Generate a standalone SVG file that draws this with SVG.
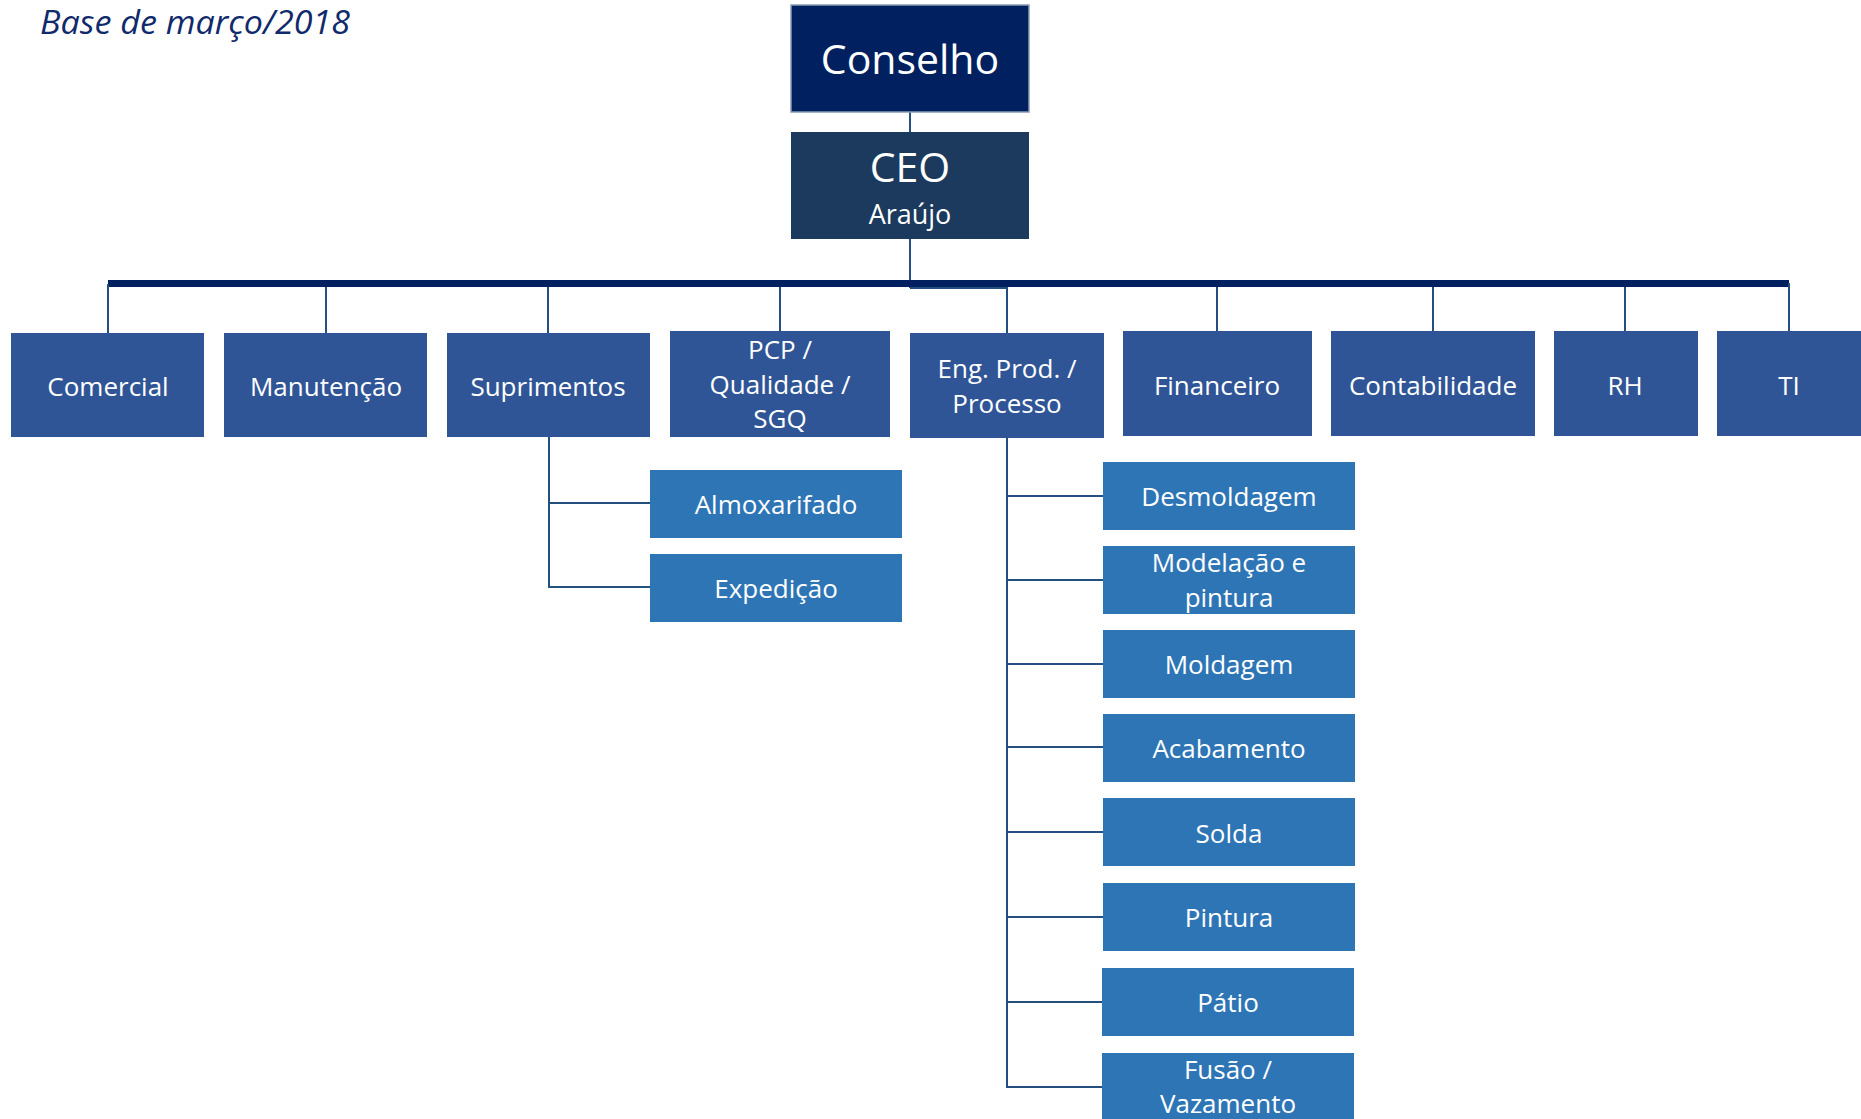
<svg xmlns="http://www.w3.org/2000/svg" width="1861" height="1119" viewBox="0 0 1861 1119">
<style>
text{font-family:"Open Sans","Noto Sans","Liberation Sans",sans-serif;fill:#ffffff;text-anchor:middle}
.l2{fill:#2F5597}
.l3{fill:#2E75B6}
.t2{font-size:26px}
.c{fill:none;stroke:#23507F;stroke-width:2}
</style>
<rect width="1861" height="1119" fill="#ffffff"/>
<text x="40" y="34" style="font-size:32px;font-style:italic;fill:#102A6B;text-anchor:start" textLength="310" lengthAdjust="spacingAndGlyphs">Base de março/2018</text>
<g id="connectors">
<line x1="910" y1="112" x2="910" y2="132" class="c"/>
<line x1="910" y1="239" x2="910" y2="288" class="c"/>
<rect x="108" y="280" width="1681" height="7" fill="#002060"/>
<path class="c" d="M108 284V333M326 287V333M548 287V333M780 287V331M1217 287V331M1433 287V331M1625 287V331M1789 283V331"/>
<path class="c" d="M910 288H1007V333"/>
<path class="c" d="M549 437V587H650M549 503H650"/>
<path class="c" d="M1007 438V1087H1102M1007 496H1103M1007 580H1103M1007 664H1103M1007 747H1103M1007 832H1103M1007 917H1103M1007 1002H1102"/>
</g>
<g id="conselho"><rect x="791" y="5" width="238" height="107" fill="#002060" stroke="#8A9BB5" stroke-width="1.5"/><text x="910" y="74" style="font-size:41px">Conselho</text></g>
<g id="ceo"><rect x="791" y="132" width="238" height="107" fill="#1B3A5D"/><text x="910" y="182" style="font-size:41px">CEO</text><text x="910" y="224" style="font-size:27px">Araújo</text></g>
<g id="comercial"><rect class="l2" x="11" y="333" width="193" height="104"/><text class="t2" x="108" y="396">Comercial</text></g>
<g id="manutencao"><rect class="l2" x="224" y="333" width="203" height="104"/><text class="t2" x="326" y="396">Manutenção</text></g>
<g id="suprimentos"><rect class="l2" x="447" y="333" width="203" height="104"/><text class="t2" x="548" y="396">Suprimentos</text></g>
<g id="pcp"><rect class="l2" x="670" y="331" width="220" height="106"/><text class="t2" x="780" y="359">PCP /</text><text class="t2" x="780" y="394">Qualidade /</text><text class="t2" x="780" y="428">SGQ</text></g>
<g id="engprod"><rect class="l2" x="910" y="333" width="194" height="105"/><text class="t2" x="1007" y="378">Eng. Prod. /</text><text class="t2" x="1007" y="413">Processo</text></g>
<g id="financeiro"><rect class="l2" x="1123" y="331" width="189" height="105"/><text class="t2" x="1217" y="395">Financeiro</text></g>
<g id="contabilidade"><rect class="l2" x="1331" y="331" width="204" height="105"/><text class="t2" x="1433" y="395">Contabilidade</text></g>
<g id="rh"><rect class="l2" x="1554" y="331" width="144" height="105"/><text class="t2" x="1625" y="395">RH</text></g>
<g id="ti"><rect class="l2" x="1717" y="331" width="144" height="105"/><text class="t2" x="1789" y="395">TI</text></g>
<g id="almoxarifado"><rect class="l3" x="650" y="470" width="252" height="68"/><text class="t2" x="776" y="514">Almoxarifado</text></g>
<g id="expedicao"><rect class="l3" x="650" y="554" width="252" height="68"/><text class="t2" x="776" y="598">Expedição</text></g>
<g id="desmoldagem"><rect class="l3" x="1103" y="462" width="252" height="68"/><text class="t2" x="1229" y="506">Desmoldagem</text></g>
<g id="modelacao"><rect class="l3" x="1103" y="546" width="252" height="68"/><text class="t2" x="1229" y="572">Modelação e</text><text class="t2" x="1229" y="607">pintura</text></g>
<g id="moldagem"><rect class="l3" x="1103" y="630" width="252" height="68"/><text class="t2" x="1229" y="674">Moldagem</text></g>
<g id="acabamento"><rect class="l3" x="1103" y="714" width="252" height="68"/><text class="t2" x="1229" y="758">Acabamento</text></g>
<g id="solda"><rect class="l3" x="1103" y="798" width="252" height="68"/><text class="t2" x="1229" y="843">Solda</text></g>
<g id="pintura"><rect class="l3" x="1103" y="883" width="252" height="68"/><text class="t2" x="1229" y="927">Pintura</text></g>
<g id="patio"><rect class="l3" x="1102" y="968" width="252" height="68"/><text class="t2" x="1228" y="1012">Pátio</text></g>
<g id="fusao"><rect class="l3" x="1102" y="1053" width="252" height="68"/><text class="t2" x="1228" y="1079">Fusão /</text><text class="t2" x="1228" y="1113">Vazamento</text></g>
</svg>
